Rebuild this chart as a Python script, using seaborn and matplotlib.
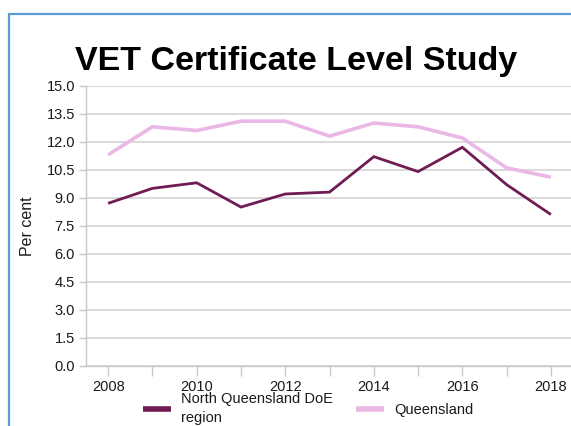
import matplotlib
matplotlib.use("Agg")
import matplotlib.pyplot as plt
import pandas as pd
import seaborn as sns
from matplotlib.lines import Line2D

years = [2008, 2009, 2010, 2011, 2012, 2013, 2014, 2015, 2016, 2017, 2018]
north_qld = [8.7, 9.5, 9.8, 8.5, 9.2, 9.3, 11.2, 10.4, 11.7, 9.7, 8.1]
queensland = [11.3, 12.8, 12.6, 13.1, 13.1, 12.3, 13.0, 12.8, 12.2, 10.6, 10.1]
series_names = ["North Queensland DoE\nregion", "Queensland"]
colors = ["#701c54", "#ebb7e5"]
y_ticks = [0.0, 1.5, 3.0, 4.5, 6.0, 7.5, 9.0, 10.5, 12.0, 13.5, 15.0]
x_labels = [2008, 2010, 2012, 2014, 2016, 2018]

df = pd.DataFrame({
    "year": years * 2,
    "value": north_qld + queensland,
    "series": [series_names[0]] * len(years) + [series_names[1]] * len(years),
})

sns.set_style("white")
plt.rcParams["font.family"] = ["Liberation Sans", "DejaVu Sans"]
plt.rcParams["text.color"] = "#1a1a1a"
plt.rcParams["xtick.labelcolor"] = "#1a1a1a"
plt.rcParams["ytick.labelcolor"] = "#1a1a1a"
plt.rcParams["axes.labelcolor"] = "#1a1a1a"

fig = plt.figure(figsize=(5.71, 4.26), dpi=100)
ax = fig.add_axes([0.1506, 0.1415, 0.853, 0.6573])

sns.lineplot(data=df, x="year", y="value", hue="series", palette=colors,
             hue_order=series_names, ax=ax, legend=False)
for line, lw in zip(ax.lines, [2.0, 2.6]):
    line.set_linewidth(lw)
    line.set_solid_joinstyle("miter")
    line.set_solid_capstyle("butt")

ax.set_xlim(2007.5, 2018.5)
ax.set_ylim(0, 15)
ax.set_yticks(y_ticks)
ax.set_yticklabels([f"{t:.1f}" for t in y_ticks])
ax.set_xticks(years, minor=True)
ax.set_xticks(x_labels)
ax.set_xticklabels([str(x) for x in x_labels])
ax.tick_params(axis="x", which="both", length=7, width=1, color="#c8c8c8",
               direction="out", bottom=True, labelsize=10.5, pad=3)
ax.tick_params(axis="y", length=5, width=1, color="#c8c8c8", direction="out",
               left=True, labelsize=10.5, pad=3)
ax.grid(axis="y", color="#d9d9d9", linewidth=1.4)
ax.set_axisbelow(True)
for side in ["top", "right"]:
    ax.spines[side].set_visible(False)
for side in ["left", "bottom"]:
    ax.spines[side].set_color("#c8c8c8")
    ax.spines[side].set_linewidth(1)
ax.set_xlabel("")
ax.set_ylabel("Per cent", fontsize=11.5, labelpad=8)

fig.text(0.131, 0.855, "VET Certificate Level Study", fontsize=24.5,
         fontweight="bold", ha="left", va="center", color="black")

handles = [Line2D([], [], color=c, linewidth=4, solid_capstyle="butt") for c in colors]
leg = fig.legend(handles, series_names, loc="center", bbox_to_anchor=(0.54, 0.04),
                 ncol=2, frameon=False, fontsize=10.5, handlelength=1.9,
                 handletextpad=0.7, columnspacing=1.6)
for t in leg.get_texts():
    t.set_linespacing(1.45)

# blue frame around the chart
fig.add_artist(Line2D([0.015, 0.015], [0, 0.967], color="#5b9bd5", linewidth=1.6,
                      transform=fig.transFigure))
fig.add_artist(Line2D([0.015, 1], [0.967, 0.967], color="#5b9bd5", linewidth=1.6,
                      transform=fig.transFigure))

fig.savefig("out.png", dpi=100)
plt.close(fig)
